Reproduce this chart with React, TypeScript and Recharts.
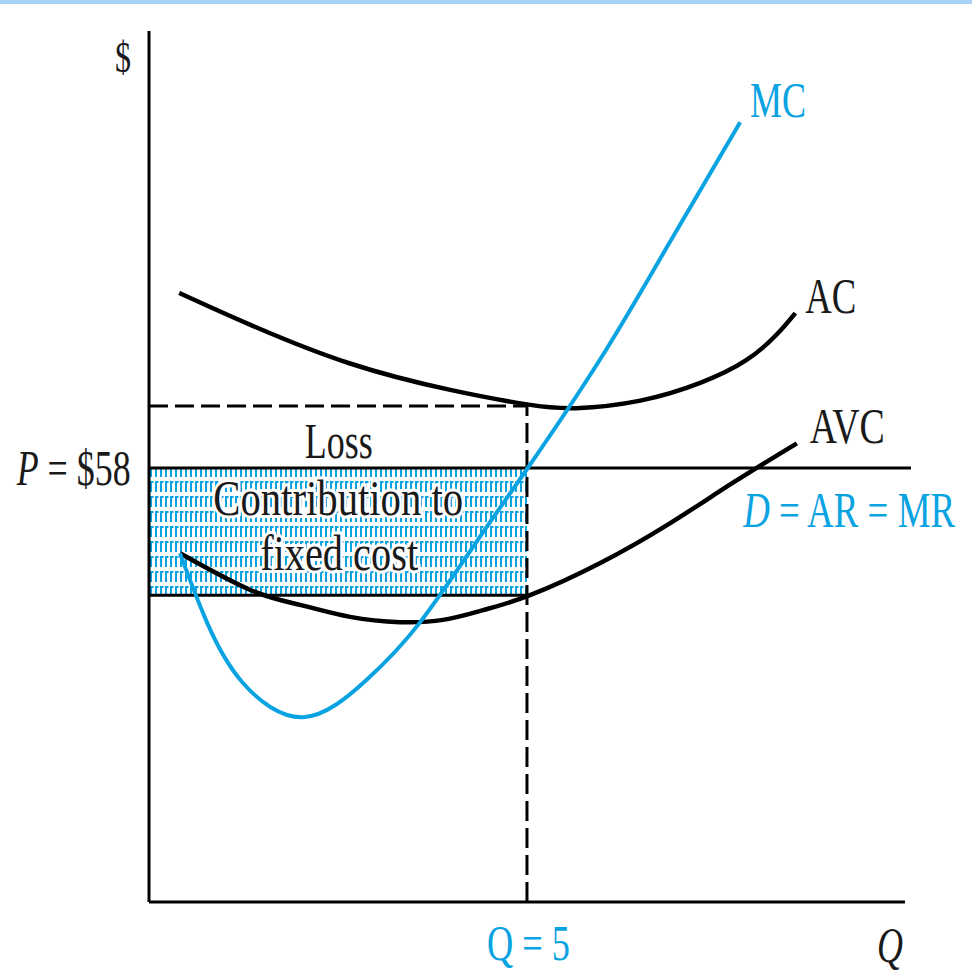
import React from "react";
import {
  ComposedChart,
  Line,
  XAxis,
  YAxis,
  ReferenceLine,
  ReferenceArea,
  ReferenceDot,
} from "recharts";

const BLUE = "#0aa3e2";
const INK = "#1a1a1a";
const SERIF_NAME = "Liberation Serif";
const SERIF = "'Liberation Serif', 'Times New Roman', serif";

// cost curves (q = output, v = $)
const acData = [
  { q: 0.4, v: 81.4 },
  { q: 1.35, v: 77.1 },
  { q: 2.65, v: 72.0 },
  { q: 4.0, v: 68.4 },
  { q: 5.0, v: 66.5 },
  { q: 5.65, v: 66.0 },
  { q: 6.5, v: 67.0 },
  { q: 7.3, v: 69.4 },
  { q: 7.9, v: 72.4 },
  { q: 8.3, v: 75.8 },
  { q: 8.55, v: 78.7 },
];

const avcData = [
  { q: 0.41, v: 46.6 },
  { q: 1.34, v: 41.7 },
  { q: 2.0, v: 39.7 },
  { q: 2.66, v: 38.1 },
  { q: 3.32, v: 37.4 },
  { q: 3.89, v: 37.7 },
  { q: 4.42, v: 39.0 },
  { q: 5.04, v: 41.0 },
  { q: 5.97, v: 45.3 },
  { q: 6.89, v: 50.6 },
  { q: 7.72, v: 56.0 },
  { q: 8.57, v: 61.3 },
];

const mcData = [
  { q: 0.41, v: 46.6 },
  { q: 0.77, v: 37.3 },
  { q: 1.24, v: 29.3 },
  { q: 2.04, v: 24.7 },
  { q: 2.88, v: 29.7 },
  { q: 3.58, v: 37.3 },
  { q: 4.35, v: 48.4 },
  { q: 5.01, v: 58.0 },
  { q: 5.96, v: 72.4 },
  { q: 6.85, v: 87.5 },
  { q: 7.82, v: 104.2 },
];

const price = 58;
const qStar = 5;
const acAtQ = 66.3;
const avcAtQ = 41;
const qMax = 10.08;
const vMax = 116.4;

// text placed at (q, v) = left end of the baseline, squeezed to width w
type Lbl = {
  id: string;
  parts: { t: string; italic?: boolean }[];
  q: number;
  v: number;
  w: number;
  color: string;
  size?: number;
  halo?: boolean;
};

const labels: Lbl[] = [
  { id: "dollar", parts: [{ t: "$" }], q: -0.45, v: 110.9, w: 16, color: INK, size: 44 },
  { id: "mc", parts: [{ t: "MC" }], q: 7.95, v: 104.9, w: 56, color: BLUE },
  { id: "ac", parts: [{ t: "AC" }], q: 8.68, v: 78.7, w: 51, color: INK },
  { id: "avc", parts: [{ t: "AVC" }], q: 8.74, v: 61.3, w: 75, color: INK },
  {
    id: "d",
    parts: [{ t: "D", italic: true }, { t: " = AR = MR" }],
    q: 7.86,
    v: 50.1,
    w: 214,
    color: BLUE,
  },
  {
    id: "p",
    parts: [{ t: "P", italic: true }, { t: " = $58" }],
    q: -1.75,
    v: 55.7,
    w: 114,
    color: INK,
  },
  { id: "loss", parts: [{ t: "Loss" }], q: 2.06, v: 59.3, w: 68, color: INK },
  {
    id: "contrib",
    parts: [{ t: "Contribution to" }],
    q: 0.85,
    v: 51.7,
    w: 250,
    color: INK,
    halo: true,
  },
  {
    id: "fixed",
    parts: [{ t: "fixed cost" }],
    q: 1.47,
    v: 44.4,
    w: 158,
    color: INK,
    halo: true,
  },
  { id: "q5", parts: [{ t: "Q = 5" }], q: 4.47, v: -7.75, w: 83, color: BLUE },
  { id: "qaxis", parts: [{ t: "Q", italic: true }], q: 9.63, v: -8.0, w: 26, color: INK },
];

let measureCtx: CanvasRenderingContext2D | null = null;
function textWidth(parts: Lbl["parts"], size: number) {
  if (!measureCtx) measureCtx = document.createElement("canvas").getContext("2d");
  if (!measureCtx) return 0;
  let total = 0;
  parts.forEach((p) => {
    measureCtx!.font = `${p.italic ? "italic " : ""}${size}px '${SERIF_NAME}'`;
    total += measureCtx!.measureText(p.t).width;
  });
  return total;
}

const makeLabel = (lab: Lbl) => (props: any) => {
  const vb = props.viewBox || {};
  const x = vb.x + (vb.width || 0) / 2;
  const y = vb.y + (vb.height || 0) / 2;
  const size = lab.size || 50;
  const natural = textWidth(lab.parts, size);
  const sx = natural > 0 ? lab.w / natural : 1;
  return (
    <text
      transform={`translate(${x},${y}) scale(${sx},1)`}
      x={0}
      y={0}
      fontFamily={SERIF}
      fontSize={size}
      fill={lab.color}
      stroke={lab.halo ? "#fff" : "none"}
      strokeWidth={lab.halo ? 6 : 0}
      paintOrder="stroke"
    >
      {lab.parts.map((p, i) => (
        <tspan key={i} fontStyle={p.italic ? "italic" : "normal"}>
          {p.t}
        </tspan>
      ))}
    </text>
  );
};

export default function App() {
  return (
    <div style={{ position: "absolute", left: 0, top: 0, width: 972, height: 973, background: "#fff" }}>
      <div style={{ position: "absolute", left: 0, top: 0, width: 972, height: 4, background: "#a9d3f6" }} />
      <ComposedChart
        width={972}
        height={973}
        margin={{ top: 31, right: 61, bottom: 71, left: 149 }}
      >
        <defs>
          <pattern id="fcHatch" width="5" height="15" patternUnits="userSpaceOnUse">
            <rect x="0" y="1" width="2" height="11" fill={BLUE} />
            <rect x="2" y="1" width="1.5" height="2" fill={BLUE} />
          </pattern>
        </defs>
        <XAxis dataKey="q" type="number" domain={[0, qMax]} hide allowDataOverflow />
        <YAxis type="number" domain={[0, vMax]} hide allowDataOverflow />

        <ReferenceArea
          x1={0}
          x2={qStar}
          y1={avcAtQ}
          y2={price}
          fill="url(#fcHatch)"
          fillOpacity={1}
          stroke="none"
        />

        <ReferenceLine x={0} stroke="#000" strokeWidth={3} />
        <ReferenceLine
          segment={[
            { x: 0, y: 0 },
            { x: 10, y: 0 },
          ]}
          stroke="#000"
          strokeWidth={3}
        />
        <ReferenceLine y={price} stroke="#000" strokeWidth={3} />
        <ReferenceLine
          segment={[
            { x: 0, y: avcAtQ },
            { x: qStar, y: avcAtQ },
          ]}
          stroke="#000"
          strokeWidth={3}
        />
        <ReferenceLine
          segment={[
            { x: 0, y: acAtQ },
            { x: qStar, y: acAtQ },
          ]}
          stroke="#000"
          strokeWidth={3}
          strokeDasharray="19 7"
        />
        <ReferenceLine
          segment={[
            { x: qStar, y: 0 },
            { x: qStar, y: acAtQ },
          ]}
          stroke="#000"
          strokeWidth={3}
          strokeDasharray="20 7"
        />

        <Line
          data={acData}
          dataKey="v"
          type="natural"
          stroke="#000"
          strokeWidth={4.5}
          dot={false}
          activeDot={false}
          isAnimationActive={false}
        />
        <Line
          data={avcData}
          dataKey="v"
          type="natural"
          stroke="#000"
          strokeWidth={4.5}
          dot={false}
          activeDot={false}
          isAnimationActive={false}
        />
        <Line
          data={mcData}
          dataKey="v"
          type="natural"
          stroke={BLUE}
          strokeWidth={4}
          dot={false}
          activeDot={false}
          isAnimationActive={false}
        />

        {labels.map((lab) => (
          <ReferenceDot
            key={lab.id}
            x={lab.q}
            y={lab.v}
            r={0}
            fill="none"
            stroke="none"
            ifOverflow="visible"
            label={{ content: makeLabel(lab) }}
          />
        ))}
      </ComposedChart>
    </div>
  );
}
